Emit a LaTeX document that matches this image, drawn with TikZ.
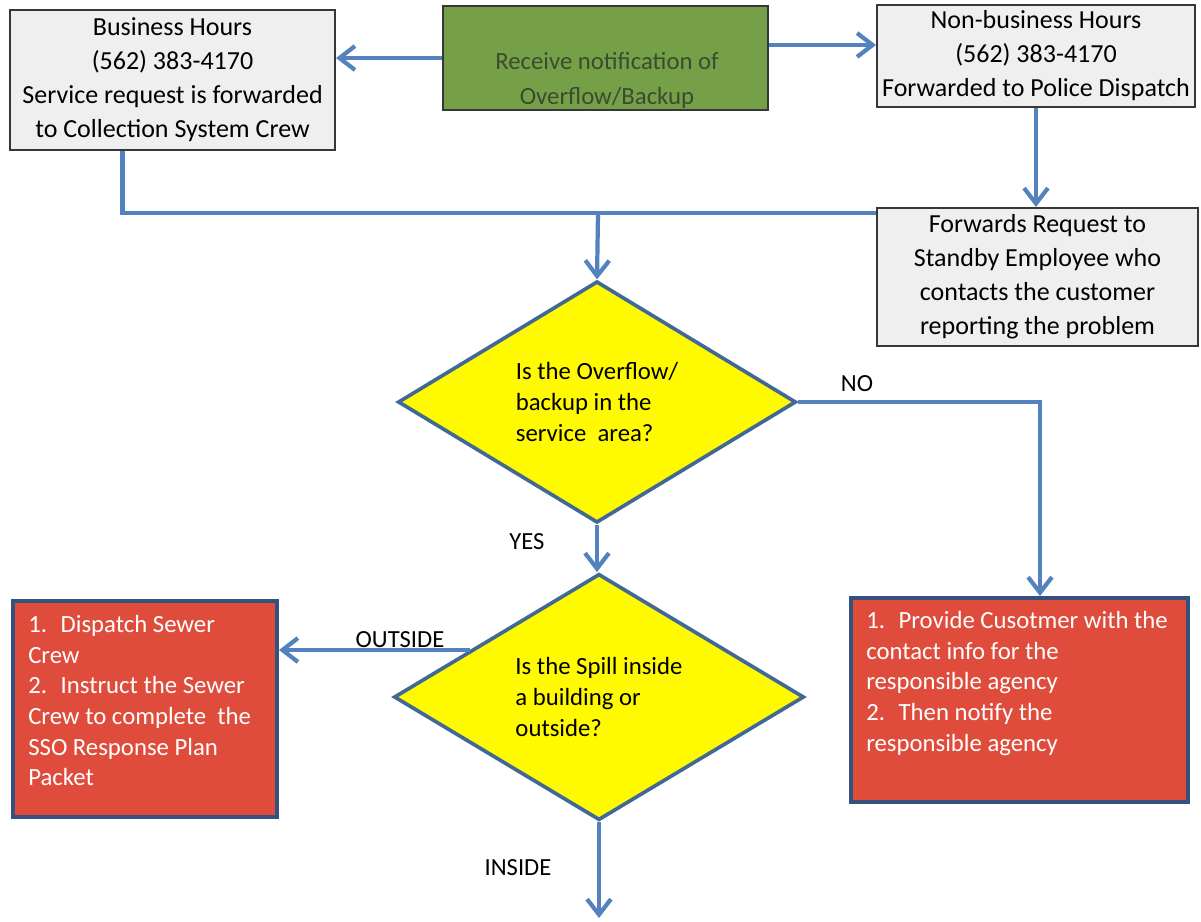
\documentclass[tikz,border=0pt]{standalone}
\usepackage{fontspec}
\setmainfont{Carlito}
\usetikzlibrary{shapes.geometric, arrows.meta}

\definecolor{flowblue}{RGB}{84,130,190}
\definecolor{boxgray}{RGB}{239,239,239}
\definecolor{boxline}{RGB}{55,55,55}
\definecolor{notegreen}{RGB}{118,160,72}
\definecolor{notetext}{RGB}{58,76,48}
\definecolor{askyellow}{RGB}{255,250,0}
\definecolor{askline}{RGB}{66,104,150}
\definecolor{actred}{RGB}{224,76,60}
\definecolor{actline}{RGB}{52,82,125}

\tikzset{
  graybox/.style={draw=boxline, line width=1.4pt, fill=boxgray, align=center, inner sep=0pt, font=\fontsize{18.5}{24.2}\selectfont},
  greenbox/.style={draw=boxline, line width=1.4pt, fill=notegreen, minimum width=8.125cm, minimum height=2.6cm},
  greentext/.style={text=notetext, align=center, inner sep=0pt, font=\fontsize{17.6}{24.9}\selectfont},
  ask/.style={diamond, draw=askline, line width=2.6pt, fill=askyellow, align=left, inner sep=0pt, font=\fontsize{17.6}{22}\selectfont},
  redbox/.style={draw=actline, line width=2.8pt, fill=actred},
  redtext/.style={text=white, align=left, inner sep=0pt, anchor=north west, font=\fontsize{17.6}{21.8}\selectfont},
  lbl/.style={font=\fontsize{17.5}{21}\selectfont},
  flow/.style={draw=flowblue, line width=3pt, -{Straight Barb[length=11pt, width=17pt]}},
  link/.style={draw=flowblue, line width=3pt}
}

\begin{document}
\begin{tikzpicture}[x=0.025cm, y=-0.025cm]
\fill[white] (0,0) rectangle (1201,921);
\useasboundingbox (0,0) rectangle (1201,921);

\node[graybox, minimum width=8.125cm, minimum height=3.5cm] (biz) at (172.5,80) {Business Hours\\(562) 383-4170\\Service request is forwarded\\to Collection System Crew};
\node[greenbox] (notify) at (605.5,58) {};
\node[greentext] (notifytext) at (607,80) {Receive notification of\\Overflow/Backup};
\node[graybox, minimum width=7.95cm, minimum height=2.55cm] (nonbiz) at (1036,56) {Non-business Hours\\(562) 383-4170\\Forwarded to Police Dispatch};
\node[graybox, minimum width=8.025cm, minimum height=3.45cm] (standby) at (1037.5,277) {Forwards Request to\\Standby Employee who\\contacts the customer\\reporting the problem};

\node[ask, minimum width=9.95cm, minimum height=5.825cm] (qarea) at (597,402) {Is the Overflow/\\backup in the\\service\ \ area?};
\node[ask, minimum width=10.25cm, minimum height=5.75cm] (qspill) at (599,697) {Is the Spill inside\\a building or\\outside?};

\node[redbox, minimum width=6.6cm, minimum height=5.4cm] (outside) at (145,709) {};
\node[redtext] (outsidetext) at (28,615) {1.\hspace{0.55em}Dispatch Sewer\\Crew\\2.\hspace{0.55em}Instruct the Sewer\\Crew to complete\ \ the\\SSO Response Plan\\Packet};
\node[redbox, minimum width=8.425cm, minimum height=5.1cm] (agency) at (1019.5,700) {};
\node[redtext] (agencytext) at (866,611) {1.\hspace{0.55em}Provide Cusotmer with the\\contact info for the\\responsible agency\\2.\hspace{0.55em}Then notify the\\responsible agency};

\node[lbl] (nolbl) at (857,384) {NO};
\node[lbl] (yeslbl) at (527,542) {YES};
\node[lbl] (outlbl) at (400,640) {OUTSIDE};
\node[lbl] (inlbl) at (518,868) {INSIDE};

\coordinate (merge) at (598,213);
\coordinate (nodrop) at (1040,402);
\coordinate (inside) at (599,918);

\draw[flow] (notify.west) -- (notify.west -| biz.east);
\draw[flow] (notify.east |- 0,45) -- (nonbiz.west |- 0,45);
\draw[flow] (nonbiz.south) -- (nonbiz.south |- standby.north);
\draw[link] (biz.south) ++(-50,0) |- (merge) -- (merge -| standby.west);
\draw[flow] (merge) -- (qarea.north);
\draw[flow] (qarea.east) -- (nodrop) -- (nodrop |- agency.north);
\draw[flow] (qarea.south) -- (qarea.south |- qspill.north);
\draw[flow] (qspill.160) -- (qspill.160 -| outside.east);
\draw[flow] (qspill.south) -- (inside);
\end{tikzpicture}
\end{document}
